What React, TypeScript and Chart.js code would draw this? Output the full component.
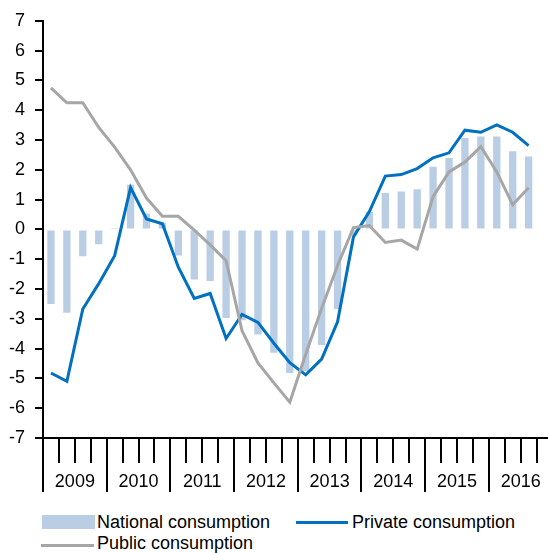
import React, { useEffect, useRef } from "react";
import { Chart, registerables } from "chart.js";

Chart.register(...registerables);

const years = ["2009", "2010", "2011", "2012", "2013", "2014", "2015", "2016"];
const quarterNames = ["Q1", "Q2", "Q3", "Q4"];
const categories = years.flatMap((y) => quarterNames.map((q) => `${y} ${q}`));

const nationalConsumption = [
  -2.5, -2.8, -0.9, -0.5,
  0.05, 1.5, 0.53, 0.22,
  -0.88, -1.68, -1.73, -2.97,
  -3.05, -3.53, -4.14, -4.82,
  -4.75, -3.88, -2.67, -0.2,
  0.58, 1.22, 1.27, 1.35,
  2.1, 2.4, 3.07, 3.12,
  3.12, 2.62, 2.45,
];

const privateConsumption = [
  -4.82, -5.1, -2.67, -1.82,
  -0.88, 1.4, 0.35, 0.19,
  -1.27, -2.32, -2.15, -3.66,
  -2.85, -3.12, -3.82, -4.47,
  -4.88, -4.35, -3.1, -0.25,
  0.6, 1.79, 1.84, 2.04,
  2.4, 2.57, 3.33, 3.26,
  3.51, 3.26, 2.81,
];

const publicConsumption = [
  4.75, 4.25, 4.25, 3.42,
  2.76, 2.0, 1.05, 0.44,
  0.44, -0.02, -0.52, -1.05,
  -3.4, -4.48, -5.15, -5.8,
  -4.19, -2.65, -1.21, 0.06,
  0.13, -0.44, -0.36, -0.66,
  1.1, 1.93, 2.26, 2.78,
  1.93, 0.83, 1.4,
];

const FONT = "'Liberation Sans', Arial, sans-serif";
const FONT_SIZE = 18;
const BAR_COLOR = "#B9CDE5";
const PRIVATE_COLOR = "#0070C0";
const PUBLIC_COLOR = "#A6A6A6";

const yearSeparators = {
  id: "yearSeparators",
  afterDraw(chart: any) {
    const xs = chart.scales.x;
    const ctx = chart.ctx;
    const n = chart.data.labels.length;
    const w = (xs.right - xs.left) / n;
    const bottom = chart.chartArea.bottom;
    ctx.save();
    ctx.strokeStyle = "#000";
    ctx.lineWidth = 2;
    for (let i = 0; i <= n; i += 4) {
      const px = Math.round(xs.left + i * w);
      ctx.beginPath();
      ctx.moveTo(px, bottom);
      ctx.lineTo(px, bottom + 54);
      ctx.stroke();
    }
    ctx.restore();
  },
};

export default function App() {
  const ref = useRef<HTMLCanvasElement | null>(null);

  useEffect(() => {
    if (!ref.current) return;
    const chart = new Chart(ref.current, {
      type: "bar",
      data: {
        labels: categories,
        datasets: [
          {
            type: "line",
            label: "Public consumption",
            data: publicConsumption,
            borderColor: PUBLIC_COLOR,
            backgroundColor: PUBLIC_COLOR,
            borderWidth: 3,
            pointRadius: 0,
            tension: 0,
            order: 0,
          },
          {
            type: "line",
            label: "Private consumption",
            data: privateConsumption,
            borderColor: PRIVATE_COLOR,
            backgroundColor: PRIVATE_COLOR,
            borderWidth: 3,
            pointRadius: 0,
            tension: 0,
            order: 1,
          },
          {
            type: "bar",
            label: "National consumption",
            data: nationalConsumption,
            backgroundColor: BAR_COLOR,
            borderWidth: 0,
            categoryPercentage: 1,
            barPercentage: 0.46,
            order: 2,
          },
        ],
      },
      options: {
        responsive: false,
        animation: false,
        layout: { padding: { top: 14, right: 3.5, left: 0, bottom: 0 } },
        plugins: {
          legend: { display: false },
          tooltip: { enabled: false },
        },
        scales: {
          x: {
            offset: true,
            afterFit: (s: any) => {
              s.height = 62;
            },
            border: { display: true, color: "#000", width: 2 },
            grid: {
              offset: true,
              drawOnChartArea: false,
              drawTicks: true,
              tickLength: 25,
              color: "#000",
              lineWidth: 2,
            },
            ticks: {
              autoSkip: false,
              maxRotation: 0,
              minRotation: 0,
              labelOffset: 8,
              padding: 8,
              color: "#000",
              font: { family: FONT, size: FONT_SIZE },
              callback: (_v: any, i: number) => (i % 4 === 1 ? years[Math.floor(i / 4)] : ""),
            },
          },
          y: {
            min: -7,
            max: 7,
            afterFit: (s: any) => {
              s.width = 43;
            },
            border: { display: true, color: "#000", width: 2 },
            grid: {
              drawOnChartArea: false,
              drawTicks: true,
              tickLength: 8,
              color: "#000",
              lineWidth: 2,
            },
            ticks: {
              stepSize: 1,
              padding: 10,
              color: "#000",
              font: { family: FONT, size: FONT_SIZE },
            },
          },
        },
      },
      plugins: [yearSeparators],
    });
    return () => chart.destroy();
  }, []);

  const textStyle: React.CSSProperties = {
    position: "absolute",
    fontFamily: FONT,
    fontSize: FONT_SIZE,
    color: "#000",
    lineHeight: "20px",
    whiteSpace: "nowrap",
  };

  return (
    <div
      style={{
        position: "fixed",
        left: 0,
        top: 0,
        width: 548,
        height: 553,
        overflow: "hidden",
        background: "#fff",
      }}
    >
      <canvas
        ref={ref}
        width={556}
        height={500}
        style={{ position: "absolute", left: 0, top: 0, width: 556, height: 500 }}
      />
      <div style={{ position: "absolute", left: 42, top: 515, width: 53, height: 14, background: BAR_COLOR }} />
      <div style={{ ...textStyle, left: 97, top: 512 }}>National consumption</div>
      <div style={{ position: "absolute", left: 296, top: 520.5, width: 52, height: 3, background: PRIVATE_COLOR }} />
      <div style={{ ...textStyle, left: 352, top: 512 }}>Private consumption</div>
      <div style={{ position: "absolute", left: 41, top: 543.5, width: 53, height: 3, background: PUBLIC_COLOR }} />
      <div style={{ ...textStyle, left: 97, top: 533 }}>Public consumption</div>
    </div>
  );
}
